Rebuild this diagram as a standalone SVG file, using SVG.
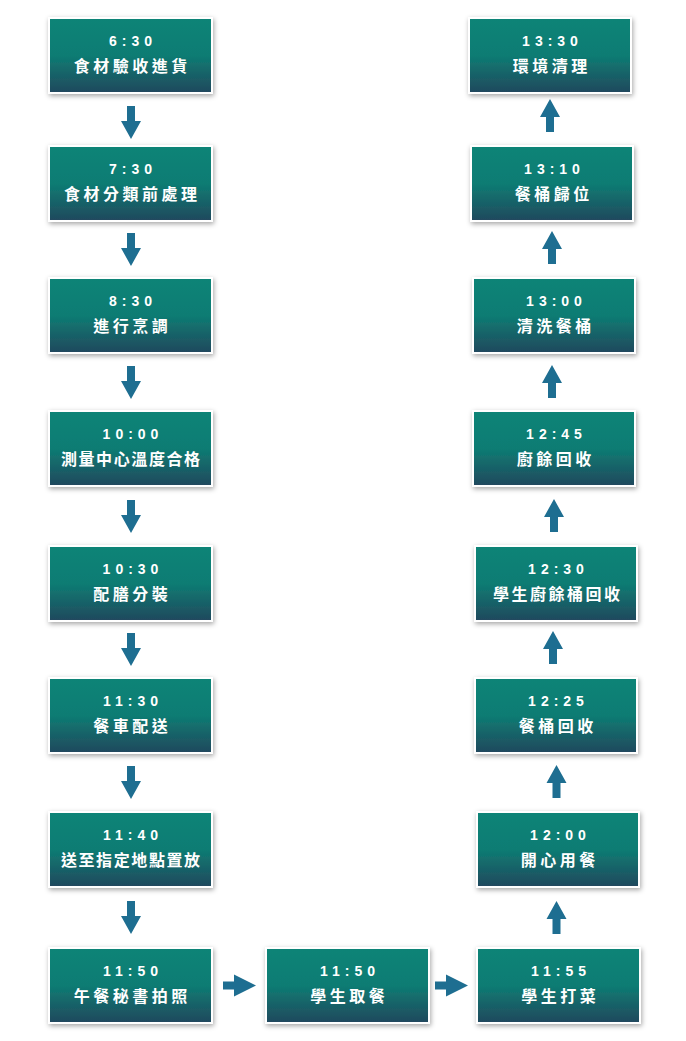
<svg xmlns="http://www.w3.org/2000/svg" width="686" height="1041" viewBox="0 0 686 1041">
<defs>
<linearGradient id="g" x1="0" y1="0" x2="0" y2="1">
<stop offset="0" stop-color="#0c8477"/>
<stop offset="0.5" stop-color="#0e7c73"/>
<stop offset="1" stop-color="#21485d"/>
</linearGradient>
<filter id="sh" x="-10%" y="-20%" width="120%" height="140%">
<feDropShadow dx="1" dy="2" stdDeviation="2.5" flood-color="#000" flood-opacity="0.35"/>
</filter>
<path id="ad" d="M-4,0 H4 V15 H10 L0,33 L-10,15 H-4 Z"/>
<path id="ar" d="M0,-4 V4 H11 V11 L33,0 L11,-11 V-4 Z"/>
</defs>
<style>
.box{fill:url(#g);stroke:#fff;stroke-width:2;filter:url(#sh)}
.t{font-family:"Liberation Sans",Arial,sans-serif;font-weight:bold;font-size:14px;fill:#fff;text-anchor:middle;letter-spacing:5px}
.c{font-family:"Noto Sans CJK TC","Noto Sans CJK SC",sans-serif;font-weight:bold;font-size:16px;fill:#fff;text-anchor:middle;letter-spacing:3.5px}
.c8{letter-spacing:1.6px}
.arr{fill:#1e6e91}
</style>
<rect width="686" height="1041" fill="#fff"/>
<g id="connectors" class="arr">
<use href="#ad" x="131" y="106"/>
<use href="#ad" x="131" y="233"/>
<use href="#ad" x="131" y="366"/>
<use href="#ad" x="131" y="500"/>
<use href="#ad" x="131" y="633"/>
<use href="#ad" x="131" y="766"/>
<use href="#ad" x="131" y="901"/>
<use href="#ar" x="223" y="985.5"/>
<use href="#ar" x="435" y="985.5"/>
<use href="#ad" transform="translate(556.5,934) scale(1,-1)"/>
<use href="#ad" transform="translate(556.5,798) scale(1,-1)"/>
<use href="#ad" transform="translate(553,664) scale(1,-1)"/>
<use href="#ad" transform="translate(554,532) scale(1,-1)"/>
<use href="#ad" transform="translate(552,398) scale(1,-1)"/>
<use href="#ad" transform="translate(552,264) scale(1,-1)"/>
<use href="#ad" transform="translate(550,132) scale(1,-1)"/>
</g>
<g id="n1"><rect class="box" x="49" y="18" width="163" height="75"/><text class="t" x="133" y="46">6:30</text><text class="c" x="132.3" y="72">食材驗收進貨</text></g>
<g id="n2"><rect class="box" x="49" y="146" width="163" height="75"/><text class="t" x="133" y="174">7:30</text><text class="c" x="132.3" y="200">食材分類前處理</text></g>
<g id="n3"><rect class="box" x="49" y="278" width="163" height="75"/><text class="t" x="133" y="306">8:30</text><text class="c" x="132.3" y="332">進行烹調</text></g>
<g id="n4"><rect class="box" x="49" y="411" width="163" height="75"/><text class="t" x="133" y="439">10:00</text><text class="c c8" x="131.3" y="465">測量中心溫度合格</text></g>
<g id="n5"><rect class="box" x="49" y="546" width="163" height="75"/><text class="t" x="133" y="574">10:30</text><text class="c" x="132.3" y="600">配膳分裝</text></g>
<g id="n6"><rect class="box" x="49" y="678" width="163" height="75"/><text class="t" x="133" y="706">11:30</text><text class="c" x="132.3" y="732">餐車配送</text></g>
<g id="n7"><rect class="box" x="49" y="812" width="163" height="75"/><text class="t" x="133" y="840">11:40</text><text class="c c8" x="131.3" y="866">送至指定地點置放</text></g>
<g id="n8"><rect class="box" x="49" y="948" width="163" height="75"/><text class="t" x="133" y="976">11:50</text><text class="c" x="132.3" y="1002">午餐秘書拍照</text></g>
<g id="n9"><rect class="box" x="266" y="948" width="163" height="75"/><text class="t" x="350" y="976">11:50</text><text class="c" x="349.3" y="1002">學生取餐</text></g>
<g id="n10"><rect class="box" x="477" y="948" width="163" height="75"/><text class="t" x="561" y="976">11:55</text><text class="c" x="560.3" y="1002">學生打菜</text></g>
<g id="n11"><rect class="box" x="477" y="812" width="162" height="75"/><text class="t" x="560.5" y="840">12:00</text><text class="c" x="559.8" y="866">開心用餐</text></g>
<g id="n12"><rect class="box" x="475" y="678" width="162" height="75"/><text class="t" x="558.5" y="706">12:25</text><text class="c" x="557.8" y="732">餐桶回收</text></g>
<g id="n13"><rect class="box" x="475" y="546" width="162" height="75"/><text class="t" x="558.5" y="574">12:30</text><text class="c" x="557.8" y="600" style="letter-spacing:2.5px">學生廚餘桶回收</text></g>
<g id="n14"><rect class="box" x="473" y="411" width="162" height="75"/><text class="t" x="556.5" y="439">12:45</text><text class="c" x="555.8" y="465">廚餘回收</text></g>
<g id="n15"><rect class="box" x="473" y="278" width="162" height="75"/><text class="t" x="556.5" y="306">13:00</text><text class="c" x="555.8" y="332">清洗餐桶</text></g>
<g id="n16"><rect class="box" x="471" y="146" width="162" height="75"/><text class="t" x="554.5" y="174">13:10</text><text class="c" x="553.8" y="200">餐桶歸位</text></g>
<g id="n17"><rect class="box" x="469" y="18" width="162" height="75"/><text class="t" x="552.5" y="46">13:30</text><text class="c" x="551.8" y="72">環境清理</text></g>
</svg>
